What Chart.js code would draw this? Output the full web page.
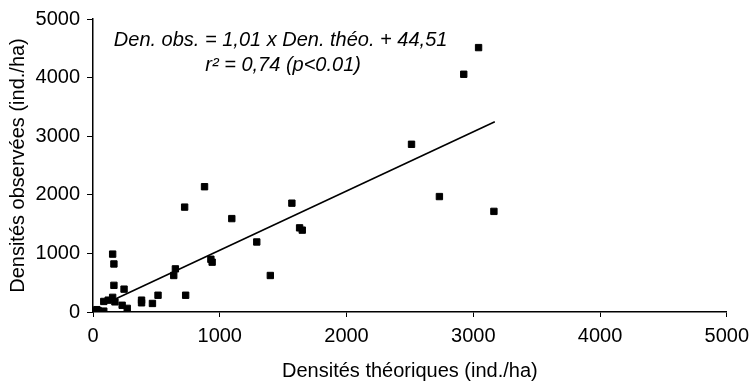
<!DOCTYPE html>
<html>
<head>
<meta charset="utf-8">
<script src="https://cdn.jsdelivr.net/npm/chart.js@4/dist/chart.umd.min.js"></script>
<style>
  html, body { margin: 0; padding: 0; background: #fff; }
  #c { display: block; }
</style>
</head>
<body>
<canvas id="c" width="756" height="390"></canvas>
<script>
// Theoretical densities (x) and observed densities (y), ind./ha
const theo = [0, 15, 40, 60, 85, 30, 85, 120, 155, 173, 230, 270, 245, 165, 155, 165,
  383, 383, 469, 513, 731, 637, 650, 930, 940, 1292, 1399,
  723, 880, 1095, 1569, 1630, 1651, 2513, 2733, 2925, 3042, 3163];
const obs = [0, 10, 25, 5, 15, 40, 180, 202, 250, 173, 115, 62, 390, 455, 988, 820,
  202, 157, 146, 286, 286, 623, 736, 900, 850, 1195, 623,
  1790, 2138, 1594, 1857, 1436, 1397, 2862, 1970, 4057, 4512, 1717];
// Regression: Den. obs. = 1,01 x Den. théo. + 44,51
const slope = 1.01;
const intercept = 44.51;
const lineX = [130, 3170];
const axisTicks = [0, 1000, 2000, 3000, 4000, 5000];
const eqLine1 = 'Den. obs. = 1,01 x Den. théo. + 44,51';
const eqLine2 = 'r² = 0,74 (p<0.01)';
const xTitle = 'Densités théoriques (ind./ha)';
const yTitle = 'Densités observées (ind./ha)';

const points = theo.map((x, i) => ({ x: x, y: obs[i] }));
const fit = lineX.map(x => ({ x: x, y: slope * x + intercept }));

const FONT = 'Arial, "Liberation Sans", sans-serif';

const annot = {
  id: 'annot',
  afterDraw(chart) {
    const ctx = chart.ctx;
    const xs = chart.scales.x, ys = chart.scales.y;
    ctx.save();
    ctx.fillStyle = '#000';
    ctx.font = 'italic 20px ' + FONT;
    ctx.textAlign = 'center';
    ctx.textBaseline = 'middle';
    ctx.fillText(eqLine1, xs.getPixelForValue(1480), ys.getPixelForValue(4630));
    ctx.fillText(eqLine2, xs.getPixelForValue(1500), ys.getPixelForValue(4210));
    ctx.restore();
  }
};

new Chart(document.getElementById('c'), {
  type: 'scatter',
  data: {
    datasets: [
      {
        data: fit,
        showLine: true,
        borderColor: '#000',
        borderWidth: 1.6,
        pointRadius: 0,
        fill: false,
        order: 1
      },
      {
        data: points,
        pointStyle: 'rect',
        pointRadius: 4.5,
        pointBorderWidth: 1,
        backgroundColor: '#000',
        borderColor: '#000',
        order: 0
      }
    ]
  },
  plugins: [annot],
  options: {
    responsive: false,
    animation: false,
    devicePixelRatio: 1,
    layout: { padding: { left: 0, right: 27, top: 15, bottom: 0 } },
    plugins: { legend: { display: false }, tooltip: { enabled: false } },
    scales: {
      x: {
        type: 'linear',
        min: 0, max: 5000,
        afterFit: s => { s.height = 78; },
        afterBuildTicks: s => { s.ticks = axisTicks.map(v => ({ value: v })); },
        grid: { drawOnChartArea: false, color: '#000', tickLength: 5, lineWidth: 1 },
        border: { color: '#000', width: 1.5 },
        ticks: { color: '#000', font: { family: FONT, size: 20 }, padding: 7, maxRotation: 0, callback: v => String(v) },
        title: { display: true, text: xTitle, color: '#000', font: { family: FONT, size: 20 }, padding: { top: 0, bottom: 7 } }
      },
      y: {
        type: 'linear',
        min: 0, max: 5000,
        afterFit: s => { s.width = 93; },
        afterBuildTicks: s => { s.ticks = axisTicks.map(v => ({ value: v })); },
        grid: { drawOnChartArea: false, color: '#000', tickLength: 6, lineWidth: 1 },
        border: { color: '#000', width: 1.5 },
        ticks: { color: '#000', font: { family: FONT, size: 20 }, padding: 7, callback: v => String(v) },
        title: { display: true, text: yTitle, color: '#000', font: { family: FONT, size: 20 }, padding: { top: 6, bottom: 0 } }
      }
    }
  }
});
</script>
</body>
</html>
